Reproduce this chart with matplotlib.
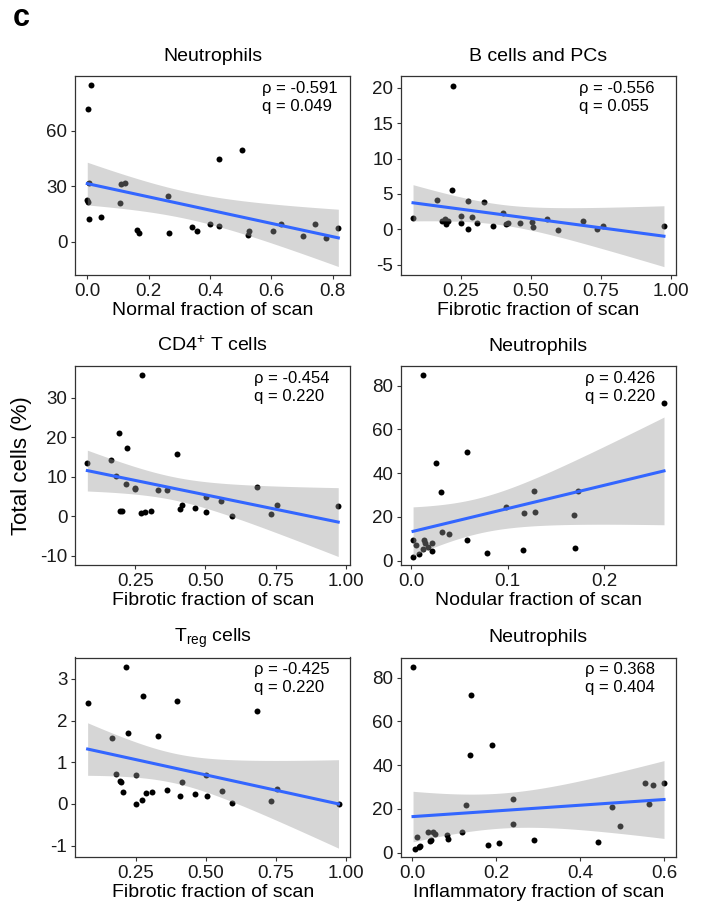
import numpy as np
import matplotlib
matplotlib.use("Agg")
import matplotlib.pyplot as plt

plt.rcParams['font.family'] = ['Liberation Sans', 'DejaVu Sans']
plt.rcParams['mathtext.fontset'] = 'custom'
plt.rcParams['mathtext.rm'] = 'Liberation Sans'
plt.rcParams['mathtext.it'] = 'Liberation Sans:italic'
plt.rcParams['mathtext.bf'] = 'Liberation Sans:bold'

# ---------------- data ----------------
# Panel 1: Neutrophils vs Normal fraction
p1_x = [0.013, 0.003, 0.006, 0.000, 0.001, 0.006, 0.046, 0.107, 0.110, 0.123,
        0.163, 0.169, 0.262, 0.267, 0.340, 0.358, 0.400, 0.429, 0.429, 0.504,
        0.524, 0.528, 0.604, 0.631, 0.703, 0.742, 0.779, 0.818]
p1_y = [84.5, 71.9, 31.7, 22.5, 21.5, 12.4, 13.2, 20.9, 31.0, 31.7,
        6.2, 4.9, 24.7, 4.7, 7.9, 5.6, 9.7, 44.7, 8.6, 49.4,
        3.6, 5.8, 5.6, 9.7, 3.2, 9.6, 2.0, 7.4]

# Panel 2: B cells and PCs vs Fibrotic fraction
p2_x = [0.079, 0.164, 0.217, 0.223, 0.181, 0.193, 0.197, 0.204, 0.250, 0.251,
        0.274, 0.276, 0.288, 0.308, 0.333, 0.363, 0.401, 0.410, 0.417, 0.462,
        0.505, 0.506, 0.558, 0.596, 0.685, 0.736, 0.756, 0.975]
p2_y = [1.64, 4.14, 5.55, 20.3, 1.2, 1.5, 0.75, 1.15, 1.92, 0.85,
        0.08, 4.0, 1.74, 0.94, 3.8, 0.42, 2.35, 0.7, 0.85, 0.85,
        1.0, 0.37, 1.45, -0.05, 1.17, 0.04, 0.51, 0.42]

# Panel 3: CD4+ T cells vs Fibrotic fraction
p3_x = [0.079, 0.165, 0.181, 0.193, 0.197, 0.204, 0.216, 0.222, 0.250, 0.250,
        0.269, 0.286, 0.274, 0.307, 0.331, 0.363, 0.399, 0.408, 0.415, 0.463,
        0.501, 0.503, 0.557, 0.595, 0.683, 0.734, 0.754, 0.973]
p3_y = [13.6, 14.3, 10.1, 21.1, 1.27, 1.35, 8.2, 17.2, 7.2, 6.8,
        0.76, 0.94, 35.8, 1.27, 6.6, 6.6, 15.8, 1.85, 2.7, 2.1,
        4.9, 0.94, 3.8, 0.08, 7.4, 0.5, 2.9, 2.46]

# Panel 4: Neutrophils vs Nodular fraction
p4_x = [0.0124, 0.0021, 0.0055, 0.0021, 0.0080, 0.0128, 0.0138, 0.0145, 0.0179,
        0.0214, 0.0214, 0.0259, 0.0307, 0.0317, 0.0390, 0.0576, 0.0576, 0.0783,
        0.0979, 0.1158, 0.1172, 0.1269, 0.1286, 0.1689, 0.1693, 0.1727, 0.2616]
p4_y = [84.9, 9.6, 7.3, 1.8, 3.1, 5.5, 9.3, 8.2, 6.4,
        8.1, 4.4, 44.8, 31.3, 13.1, 12.2, 49.5, 9.5, 3.5,
        24.7, 4.7, 21.7, 31.9, 22.4, 20.9, 5.7, 31.7, 72.2]

# Panel 5: Treg cells vs Fibrotic fraction
p5_x = [0.079, 0.165, 0.181, 0.193, 0.197, 0.204, 0.216, 0.222, 0.250, 0.250,
        0.272, 0.275, 0.288, 0.307, 0.331, 0.363, 0.399, 0.408, 0.416, 0.463,
        0.501, 0.503, 0.557, 0.595, 0.683, 0.734, 0.754, 0.973]
p5_y = [2.41, 1.57, 0.73, 0.56, 0.53, 0.29, 3.29, 1.71, 0.70, 0.0,
        0.10, 2.58, 0.27, 0.29, 1.62, 0.34, 2.46, 0.20, 0.52, 0.23,
        0.69, 0.18, 0.31, 0.02, 2.23, 0.06, 0.36, 0.01]

# Panel 6: Neutrophils vs Inflammatory fraction
p6_x = [0.0017, 0.0057, 0.0105, 0.015, 0.018, 0.038, 0.042, 0.044, 0.050, 0.053,
        0.082, 0.086, 0.118, 0.129, 0.137, 0.141, 0.180, 0.190, 0.207, 0.239,
        0.240, 0.291, 0.442, 0.476, 0.494, 0.554, 0.565, 0.573, 0.600]
p6_y = [84.8, 1.8, 7.2, 2.7, 3.2, 9.5, 5.5, 5.7, 9.6, 8.5,
        7.9, 6.1, 9.5, 21.6, 44.6, 72.0, 3.5, 49.3, 4.6, 24.7,
        13.1, 5.7, 4.7, 20.9, 12.2, 31.7, 22.4, 31.1, 31.7]

titles = ["Neutrophils", "B cells and PCs", "CD4$^{+}$ T cells",
          "Neutrophils", "T$_{\\mathrm{reg}}$ cells", "Neutrophils"]
xlabels = ["Normal fraction of scan", "Fibrotic fraction of scan",
           "Fibrotic fraction of scan", "Nodular fraction of scan",
           "Fibrotic fraction of scan", "Inflammatory fraction of scan"]
rho_labels = ["-0.591", "-0.556", "-0.454", "0.426", "-0.425", "0.368"]
q_labels = ["0.049", "0.055", "0.220", "0.220", "0.220", "0.404"]
xticks = [[0.0, 0.2, 0.4, 0.6, 0.8], [0.25, 0.50, 0.75, 1.00], [0.25, 0.50, 0.75, 1.00],
          [0.0, 0.1, 0.2], [0.25, 0.50, 0.75, 1.00], [0.0, 0.2, 0.4, 0.6]]
xtick_labels = [["0.0", "0.2", "0.4", "0.6", "0.8"], ["0.25", "0.50", "0.75", "1.00"],
                ["0.25", "0.50", "0.75", "1.00"], ["0.0", "0.1", "0.2"],
                ["0.25", "0.50", "0.75", "1.00"], ["0.0", "0.2", "0.4", "0.6"]]
yticks = [[0, 30, 60], [-5, 0, 5, 10, 15, 20], [-10, 0, 10, 20, 30],
          [0, 20, 40, 60, 80], [-1, 0, 1, 2, 3], [0, 20, 40, 60, 80]]
xlims = [(-0.040, 0.857), (0.035, 1.018), (0.035, 1.016),
         (-0.0107, 0.274), (0.034, 1.015), (-0.0277, 0.6286)]
ylims = [(-18.0, 89.6), (-6.45, 21.65), (-12.4, 38.1),
         (-2.0, 89.0), (-1.27, 3.51), (-2.0, 89.2)]

xs = [p1_x, p2_x, p3_x, p4_x, p5_x, p6_x]
ys = [p1_y, p2_y, p3_y, p4_y, p5_y, p6_y]

W, H = 705, 905
fig = plt.figure(figsize=(W / 100, H / 100), dpi=100)

col_left = [75, 400.7]
col_w = 275.3
row_top = [76, 366, 657.5]
row_bot = [275, 565, 857]
text_x = [0.679, 0.649, 0.651, 0.669, 0.651, 0.669]

FS_TICK = 13.5
FS_LAB = 14
FS_ANN = 12
DARK = '#333333'


def t975(df):
    z = 1.959964
    return z + (z**3 + z) / (4 * df) + (5 * z**5 + 16 * z**3 + 3 * z) / (96 * df**2)


for i in range(6):
    r, c = divmod(i, 2)
    left = col_left[c] / W
    bottom = 1 - row_bot[r] / H
    height = (row_bot[r] - row_top[r]) / H
    ax = fig.add_axes([left, bottom, col_w / W, height])
    x = np.array(xs[i], dtype=float)
    y = np.array(ys[i], dtype=float)

    ax.plot(x, y, 'o', color='black', markersize=4.3, markeredgewidth=0, zorder=2)

    # linear fit with 95% CI
    n = len(x)
    b, a = np.polyfit(x, y, 1)
    xg = np.linspace(x.min(), x.max(), 200)
    yhat = a + b * xg
    resid = y - (a + b * x)
    s = np.sqrt(np.sum(resid**2) / (n - 2))
    se = s * np.sqrt(1.0 / n + (xg - x.mean())**2 / np.sum((x - x.mean())**2))
    tt = t975(n - 2)
    ax.fill_between(xg, yhat - tt * se, yhat + tt * se, color='#999999', alpha=0.4,
                    linewidth=0, zorder=3)
    ax.plot(xg, yhat, color='#3366FF', linewidth=2.2, zorder=4)

    ax.set_xlim(*xlims[i])
    ax.set_ylim(*ylims[i])
    ax.set_xticks(xticks[i])
    ax.set_xticklabels(xtick_labels[i])
    ax.set_yticks(yticks[i])
    ax.set_yticklabels([str(v) for v in yticks[i]])
    ax.tick_params(axis='both', length=3, width=0.8, color=DARK, labelsize=FS_TICK,
                   labelcolor='#1a1a1a', pad=2.5)
    for sp in ax.spines.values():
        sp.set_color(DARK)
        sp.set_linewidth(0.9)
    ax.set_title(titles[i], fontsize=FS_LAB, pad=11, color='black')
    ax.set_xlabel(xlabels[i], fontsize=FS_LAB, labelpad=1.5, color='black')

    ax.text(text_x[i], 0.916, "\u03c1 = " + rho_labels[i], transform=ax.transAxes,
            ha='left', va='baseline', fontsize=FS_ANN, color='black', zorder=5)
    ax.text(text_x[i], 0.826, "q = " + q_labels[i], transform=ax.transAxes,
            ha='left', va='baseline', fontsize=FS_ANN, color='black', zorder=5)

fig.text(22 / W, 1 - 466 / H, "Total cells (%)", rotation=90, ha='center', va='center',
         fontsize=16, color='black')
fig.text(13 / W, 1 - 26 / H, "c", fontsize=22, fontweight='bold', ha='left',
         va='baseline', color='black')

fig.savefig("out.png", dpi=100)
